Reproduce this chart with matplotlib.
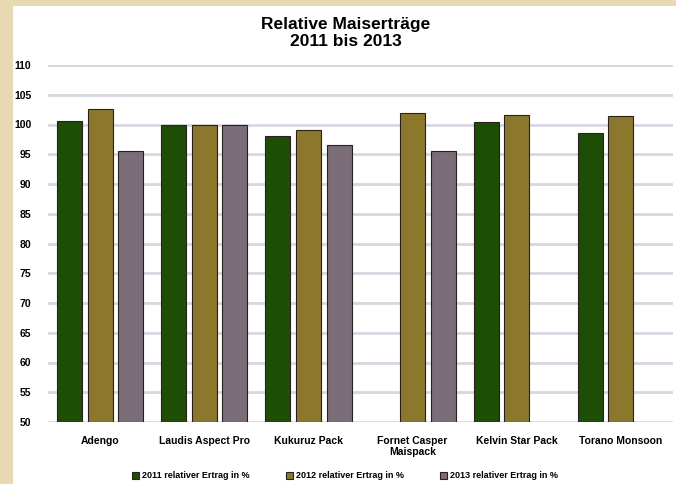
import numpy as np
import matplotlib.pyplot as plt
from matplotlib.patches import Rectangle

# Data
sorten = ["Adengo", "Laudis Aspect Pro", "Kukuruz Pack",
          "Fornet Casper\nMaispack", "Kelvin Star Pack", "Torano Monsoon"]
ertrag_2011 = [100.6, 100.0, 98.0, np.nan, 100.5, 98.5]
ertrag_2012 = [102.6, 100.0, 99.0, 102.0, 101.6, 101.5]
ertrag_2013 = [95.5, 100.0, 96.5, 95.5, np.nan, np.nan]
serien = ["2011 relativer Ertrag in %", "2012 relativer Ertrag in %",
          "2013 relativer Ertrag in %"]
farben = ["#1e4d06", "#8b782d", "#7a6d78"]
y_ticks = list(range(50, 111, 5))

font = ["Liberation Sans Narrow", "Liberation Sans", "DejaVu Sans"]
plt.rcParams["font.family"] = font

fig = plt.figure(figsize=(6.76, 4.84), dpi=100)
fig.patch.set_facecolor("#e9d9b3")
# white chart area inside the beige frame
fig.patches.append(Rectangle((13 / 676, 0), 1, 1 - 6 / 484,
                             transform=fig.transFigure, facecolor="white",
                             edgecolor="none", zorder=-1))

ax = fig.add_axes([48 / 676, 62 / 484, 625 / 676, 357 / 484])
ax.set_facecolor("white")

x = np.arange(len(sorten))
w = 0.24
d = 0.295
for i, (werte, name) in enumerate(zip([ertrag_2011, ertrag_2012, ertrag_2013], serien)):
    ax.bar(x + (i - 1) * d, np.array(werte) - 50, w, bottom=50, color=farben[i],
           edgecolor="#2a2020", linewidth=0.8, label=name, zorder=3)

ax.set_ylim(50, 110)
ax.set_xlim(-0.5, len(sorten) - 0.5)
ax.set_yticks(y_ticks)
ax.set_yticklabels([str(t) for t in y_ticks], fontsize=7.5, fontweight="bold")
ax.set_xticks(x)
ax.set_xticklabels(sorten, fontsize=7.5, fontweight="bold", va="top")
ax.tick_params(axis="x", length=0, pad=10)
ax.tick_params(axis="y", length=0, pad=12)
ax.yaxis.grid(True, color="#d8d6e0", linewidth=2)
ax.set_axisbelow(True)
for s in ax.spines.values():
    s.set_visible(False)

fig.text(346 / 676, 1 - 33 / 484, "Relative Maiserträge\n2011 bis 2013",
         ha="center", va="center", fontsize=12.5, fontweight="bold",
         linespacing=1.15)

leg = fig.legend(loc="center", bbox_to_anchor=(345 / 676, 8 / 484), ncol=3,
                 frameon=False, prop={"size": 6.5, "weight": "bold"},
                 handlelength=0.8, handleheight=0.8, handletextpad=0.3,
                 columnspacing=4)

fig.savefig("out.png", dpi=100, facecolor=fig.get_facecolor())
